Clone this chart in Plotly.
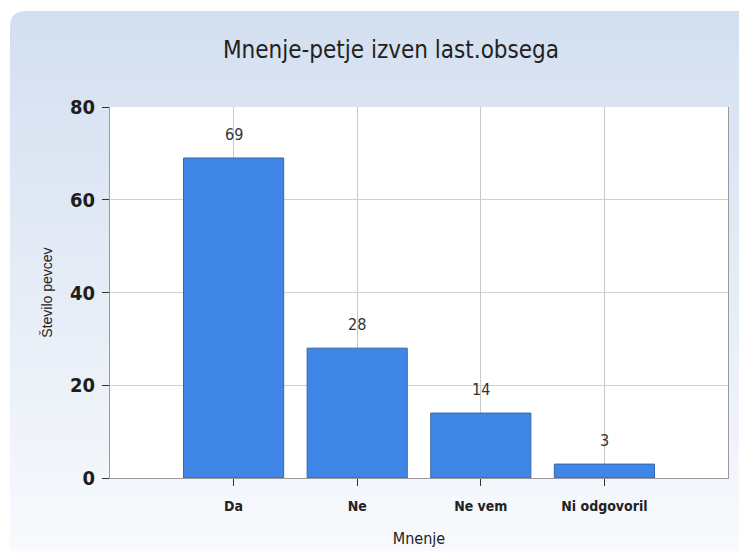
import base64
import plotly.graph_objects as go

# Survey answers and counts
categories = ["Da", "Ne", "Ne vem", "Ni odgovoril"]
counts = [69, 28, 14, 3]
y_ticks = [0, 20, 40, 60, 80]

W, H = 739, 551
M_L, M_R, M_T, M_B = 110, 11, 107, 73
plot_w = W - M_L - M_R
plot_h = H - M_T - M_B

COND = "DejaVu Sans Condensed, Liberation Sans Narrow, sans-serif"

# Soft blue panel behind the chart (vertical gradient, rounded top-left corner)
svg = f"""<svg xmlns='http://www.w3.org/2000/svg' width='{W-10}' height='{H-11}'>
<defs><linearGradient id='g' x1='0' y1='0' x2='0' y2='1'>
<stop offset='0' stop-color='#d3dff0'/>
<stop offset='0.5' stop-color='#e5ecf6'/>
<stop offset='1' stop-color='#f8fafd'/>
</linearGradient></defs>
<path d='M0,16 Q0,0 16,0 L{W-10},0 L{W-10},{H-11} L0,{H-11} Z' fill='url(#g)'/>
</svg>"""
bg_uri = "data:image/svg+xml;base64," + base64.b64encode(svg.encode()).decode()

fig = go.Figure(
    go.Bar(
        x=list(range(len(categories))),
        y=counts,
        width=0.81,
        marker=dict(color="#3f86e6", line=dict(color="#3566a8", width=1)),
        hoverinfo="x+y",
    )
)

# Value labels above each bar
for i, v in enumerate(counts):
    fig.add_annotation(
        x=i, y=v, text=str(v), showarrow=False,
        yanchor="bottom", yshift=12,
        font=dict(family=COND, size=16, color="#333333"),
    )

fig.add_layout_image(
    source=bg_uri,
    xref="paper", yref="paper",
    x=(10 - M_L) / plot_w, y=(H - M_B - 11) / plot_h,
    sizex=(W - 10) / plot_w, sizey=(H - 11) / plot_h,
    xanchor="left", yanchor="top",
    sizing="stretch", layer="below",
)
fig.add_shape(
    type="rect", xref="paper", yref="paper",
    x0=0, x1=1, y0=0, y1=1,
    fillcolor="white", line=dict(width=0), layer="below",
)

fig.update_layout(
    width=W, height=H,
    margin=dict(l=M_L, r=M_R, t=M_T, b=M_B, autoexpand=False),
    paper_bgcolor="white",
    plot_bgcolor="rgba(0,0,0,0)",
    showlegend=False,
    title=dict(
        text="Mnenje-petje izven last.obsega",
        x=(391 - M_L) / plot_w, xref="paper", xanchor="center",
        y=1 - 50 / H, yanchor="middle",
        font=dict(family=COND, size=24, color="#222222"),
    ),
)

fig.update_xaxes(
    automargin=False,
    range=[-1, 4],
    tickmode="array",
    tickvals=list(range(len(categories))),
    ticktext=categories,
    tickfont=dict(family=COND, size=14, color="#222222", weight="bold"),
    ticks="outside", ticklen=7, tickcolor="#333333", tickwidth=1,
    ticklabelstandoff=8,
    showgrid=True, gridcolor="#c8c8c8", gridwidth=1,
    showline=True, linecolor="#9a9a9a", linewidth=1,
    zeroline=False,
    title=dict(text="Mnenje", standoff=20,
               font=dict(family=COND, size=16, color="#222222")),
)

fig.update_yaxes(
    automargin=False,
    range=[0, 80],
    tickmode="array",
    tickvals=y_ticks,
    tickfont=dict(family=COND, size=20, color="#1e1e1e", weight="bold"),
    ticks="outside", ticklen=7, tickcolor="#333333", tickwidth=1,
    ticklabelstandoff=3,
    showgrid=True, gridcolor="#cfcfcf", gridwidth=1,
    showline=True, linecolor="#9a9a9a", linewidth=1, mirror=True,
    zeroline=False,
    title=dict(text="Število pevcev", standoff=14,
               font=dict(family="Liberation Sans, Arial, sans-serif", size=14, color="#222222")),
)

fig.write_html("out.html")
